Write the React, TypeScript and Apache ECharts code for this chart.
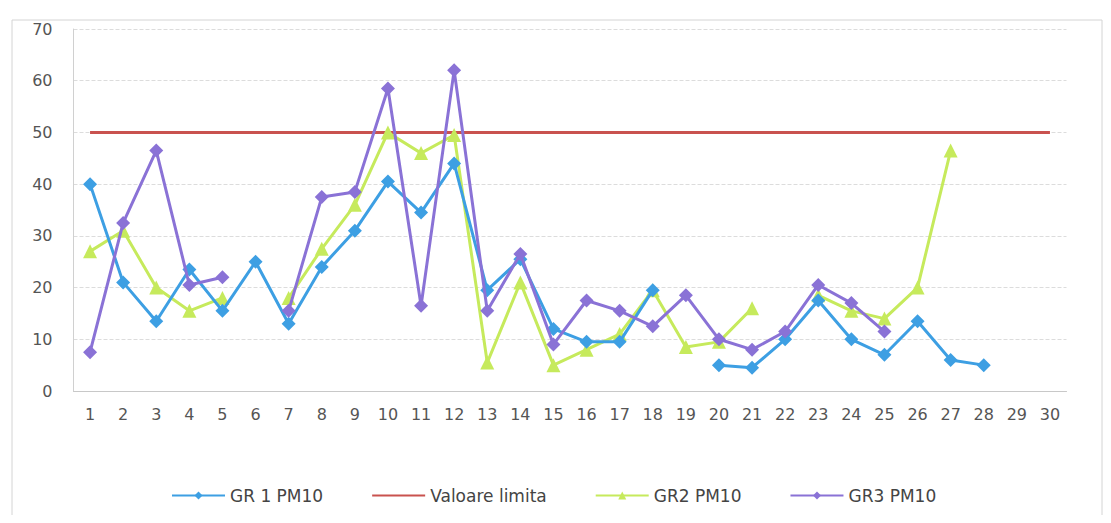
import React, { useEffect, useRef } from "react";
import * as echarts from "echarts";

const categories = Array.from({ length: 30 }, (_, i) => String(i + 1));
const gr1 = [40, 21, 13.5, 23.5, 15.5, 25, 13, 24, 31, 40.5, 34.5, 44, 19.5, 25.5, 12, 9.5, 9.5, 19.5, null, 5, 4.5, 10, 17.5, 10, 7, 13.5, 6, 5, null, null];
const limit = [50, 50, 50, 50, 50, 50, 50, 50, 50, 50, 50, 50, 50, 50, 50, 50, 50, 50, 50, 50, 50, 50, 50, 50, 50, 50, 50, 50, 50, 50];
const gr2 = [27, 31, 20, 15.5, 18, null, 18, 27.5, 36, 50, 46, 49.5, 5.5, 21, 5, 8, 11, 19.5, 8.5, 9.5, 16, null, 18.5, 15.5, 14, 20, 46.5, null, null, null];
const gr3 = [7.5, 32.5, 46.5, 20.5, 22, null, 15.5, 37.5, 38.5, 58.5, 16.5, 62, 15.5, 26.5, 9, 17.5, 15.5, 12.5, 18.5, 10, 8, 11.5, 20.5, 17, 11.5, null, null, null, null, null];
const seriesNames = ["GR 1 PM10", "Valoare limita", "GR2 PM10", "GR3 PM10"];
const colors = ["#3d9fe3", "#c9524f", "#c6ea5c", "#8a72d6"];

export default function App() {
  const ref = useRef<HTMLDivElement>(null);
  useEffect(() => {
    if (!ref.current) return;
    const chart = echarts.init(ref.current, undefined, { renderer: "svg" });
    const font = "'DejaVu Sans', Verdana, sans-serif";
    chart.setOption({
      animation: false,
      backgroundColor: "#ffffff",
      color: colors,
      textStyle: { fontFamily: font },
      graphic: [
        {
          type: "rect",
          shape: { x: 4, y: 12, width: 1090, height: 496 },
          style: { fill: "none", stroke: "#d4d4d4", lineWidth: 1 },
          silent: true,
        },
      ],
      grid: { left: 65.5, right: 36.5, top: 21, bottom: 124 },
      legend: {
        top: 474,
        left: 158,
        itemGap: 48,
        itemWidth: 53,
        itemHeight: 10,
        textStyle: { color: "#444", fontSize: 17, fontFamily: font },
        data: [
          { name: seriesNames[0] },
          { name: seriesNames[1], itemStyle: { opacity: 0 } },
          { name: seriesNames[2] },
          { name: seriesNames[3] },
        ],
      },
      xAxis: {
        type: "category",
        data: categories,
        boundaryGap: true,
        axisLine: { show: true, lineStyle: { color: "#c8c8c8" } },
        axisTick: { show: false },
        axisLabel: { color: "#555", fontSize: 16, margin: 15, fontFamily: font },
      },
      yAxis: {
        type: "value",
        min: 0,
        max: 70,
        interval: 10,
        axisLine: { show: true, lineStyle: { color: "#d0d0d0" } },
        axisTick: { show: false },
        axisLabel: { color: "#555", fontSize: 16, margin: 21, fontFamily: font },
        splitLine: { lineStyle: { color: "#dcdcdc", type: "dashed" } },
      },
      series: [
        {
          name: seriesNames[0],
          type: "line",
          data: gr1,
          symbol: "diamond",
          symbolSize: 14,
          lineStyle: { width: 3, color: colors[0] },
          itemStyle: { color: colors[0] },
          connectNulls: false,
          z: 4,
        },
        {
          name: seriesNames[1],
          type: "line",
          data: limit,
          symbol: "circle",
          showSymbol: false,
          lineStyle: { width: 3, color: colors[1] },
          itemStyle: { color: colors[1] },
          z: 2,
        },
        {
          name: seriesNames[2],
          type: "line",
          data: gr2,
          symbol: "triangle",
          symbolSize: 14,
          lineStyle: { width: 3, color: colors[2] },
          itemStyle: { color: colors[2] },
          connectNulls: false,
          z: 3,
        },
        {
          name: seriesNames[3],
          type: "line",
          data: gr3,
          symbol: "diamond",
          symbolSize: 14,
          lineStyle: { width: 3, color: colors[3] },
          itemStyle: { color: colors[3] },
          connectNulls: false,
          z: 5,
        },
      ],
    });
    return () => chart.dispose();
  }, []);
  return <div ref={ref} style={{ width: 1095, height: 507 }} />;
}
